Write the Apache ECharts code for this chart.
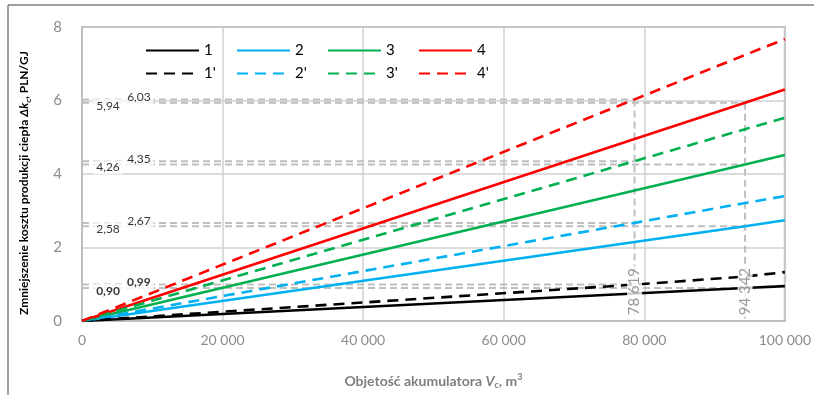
<!DOCTYPE html>
<html>
<head>
<meta charset="utf-8">
<script src="https://cdn.jsdelivr.net/npm/echarts@6/dist/echarts.min.js"></script>
<style>
html, body { margin: 0; padding: 0; background: #fff; }
#chart { width: 814px; height: 395px; }
</style>
</head>
<body>
<div id="chart"></div>
<script>
// Accumulator volume (m3) at which each curve is sampled
const volumes = [0, 78619, 94342, 100000];

// Heat production cost reduction (PLN/GJ), variants 1-4 and 1'-4'
const cost1  = [0, 0.75, 0.90, 0.95];
const cost2  = [0, 2.15, 2.58, 2.74];
const cost3  = [0, 3.55, 4.26, 4.52];
const cost4  = [0, 4.95, 5.94, 6.30];
const cost1p = [0, 0.99, 1.21, 1.33];
const cost2p = [0, 2.67, 3.21, 3.40];
const cost3p = [0, 4.35, 5.22, 5.53];
const cost4p = [0, 6.03, 7.24, 7.67];

const volumeA = 78619;
const volumeB = 94342;
const readAtA = [0.99, 2.67, 4.35, 6.03];
const readAtB = [0.90, 2.58, 4.26, 5.94];

const xTicks = [0, 20000, 40000, 60000, 80000, 100000];
const yTicks = [0, 2, 4, 6, 8];

const names = ['1', '2', '3', '4', "1'", "2'", "3'", "4'"];
const values = [cost1, cost2, cost3, cost4, cost1p, cost2p, cost3p, cost4p];
const colors = ['#000000', '#00b0f0', '#00b050', '#ff0000'];

const FONT = 'Lato, "Open Sans", sans-serif';
const GUIDE = '#bfbfbf';

function spaced(v) {
  return String(Math.round(v)).replace(/\B(?=(\d{3})+(?!\d))/g, ' ');
}
function comma(v) {
  return v.toFixed(2).replace('.', ',');
}

const series = [];

// Guide lines: horizontal read-offs and vertical markers
function guide(points) {
  series.push({
    type: 'line', data: points, symbol: 'none', silent: true, z: 1,
    lineStyle: { color: GUIDE, width: 2, type: [7, 4] },
    legendHoverLink: false, tooltip: { show: false }
  });
}
readAtA.forEach(v => guide([[0, v], [volumeA, v]]));
readAtB.forEach(v => guide([[0, v], [volumeB, v]]));
guide([[volumeA, Math.max(...readAtA)], [volumeA, 0]]);
guide([[volumeB, Math.max(...readAtB)], [volumeB, 0]]);

// Main curves
names.forEach((n, i) => {
  const dashed = i >= 4;
  series.push({
    name: n, type: 'line', symbol: 'none', showSymbol: false, z: 3,
    data: volumes.map((x, k) => [x, values[i][k]]),
    lineStyle: { color: colors[i % 4], width: 2.6, type: dashed ? [11, 7] : 'solid' },
    itemStyle: { color: colors[i % 4] }
  });
});

// Value labels next to the y axis (the lowest pair in bold)
function valueLabels(list, xPos, dy) {
  series.push({
    type: 'scatter', symbolSize: 0, z: 5, silent: true,
    data: list.map(v => [xPos, v]),
    label: {
      show: true, position: 'inside', offset: [0, dy],
      formatter: p => p.value[1] < 1 ? '{b|' + comma(p.value[1]) + '}' : '{n|' + comma(p.value[1]) + '}',
      rich: {
        n: { fontFamily: FONT, fontSize: 12, color: '#000' },
        b: { fontFamily: FONT, fontSize: 12, color: '#000', fontWeight: 'bold' }
      },
      backgroundColor: '#fff', padding: [1, 3, 1, 3]
    }
  });
}
valueLabels(readAtB, 3700, 3);
valueLabels(readAtA, 8100, -2);

// Rotated volume markers
series.push({
  type: 'scatter', symbolSize: 0, z: 6, silent: true,
  data: [[volumeA, 0.8], [volumeB, 0.8]],
  label: {
    show: true, position: 'inside', rotate: 90, align: 'center', verticalAlign: 'middle',
    formatter: p => spaced(p.value[0]),
    fontFamily: FONT, fontSize: 15, color: '#7f7f7f',
    backgroundColor: '#fff', padding: [0, 2, 0, 2]
  }
});

const legendCols = [0, 1, 2, 3].map(c => ({
  orient: 'vertical', left: 140 + c * 91, top: 38,
  itemWidth: 53, itemHeight: 14, itemGap: 8,
  data: [names[c], names[c + 4]],
  itemStyle: { opacity: 0 },
  textStyle: { fontFamily: FONT, fontSize: 15, color: '#000' },
  selectedMode: false
}));

const option = {
  animation: false,
  backgroundColor: '#fff',
  textStyle: { fontFamily: FONT },
  grid: {
    left: 82, right: 25, top: 27, bottom: 71,
    show: true, borderColor: '#a6a6a6', borderWidth: 2
  },
  legend: legendCols,
  xAxis: {
    type: 'value', min: xTicks[0], max: xTicks[xTicks.length - 1], interval: 20000,
    name: '{b|Objetość akumulatora }{i|V}{s|c}{b|, m}{p|3}',
    nameLocation: 'middle', nameGap: 52,
    nameTextStyle: {
      rich: {
        b: { fontFamily: FONT, fontSize: 14, fontWeight: 'bold', color: '#7f7f7f' },
        i: { fontFamily: FONT, fontSize: 14, fontWeight: 'bold', fontStyle: 'italic', color: '#7f7f7f' },
        s: { fontFamily: FONT, fontSize: 9, fontWeight: 'bold', color: '#7f7f7f', padding: [8, 0, 0, 0] },
        p: { fontFamily: FONT, fontSize: 9, fontWeight: 'bold', color: '#7f7f7f', padding: [0, 0, 8, 0] }
      }
    },
    axisLine: { show: true, lineStyle: { color: '#bfbfbf', width: 2 } },
    axisTick: { show: false },
    splitLine: { show: true, lineStyle: { color: '#d0d0d0', width: 1.5 } },
    axisLabel: {
      fontFamily: FONT, fontSize: 14, color: '#8c8c8c', margin: 12,
      formatter: v => spaced(v)
    }
  },
  yAxis: {
    type: 'value', min: yTicks[0], max: yTicks[yTicks.length - 1], interval: 2,
    name: '{b|Zmniejszenie kosztu produkcji ciepła }{i|Δk}{s|c}{b|, PLN/GJ}',
    nameLocation: 'middle', nameGap: 50, nameRotate: 90,
    nameTextStyle: {
      padding: [0, 18, 0, 0],
      rich: {
        b: { fontFamily: FONT, fontSize: 12, fontWeight: 'bold', color: '#000' },
        i: { fontFamily: FONT, fontSize: 12, fontWeight: 'bold', fontStyle: 'italic', color: '#000' },
        s: { fontFamily: FONT, fontSize: 8, fontWeight: 'bold', color: '#000', padding: [7, 0, 0, 0] }
      }
    },
    axisLine: { show: true, lineStyle: { color: '#bfbfbf', width: 2 } },
    axisTick: { show: false },
    splitLine: { show: true, lineStyle: { color: '#d0d0d0', width: 1.5 } },
    axisLabel: { fontFamily: FONT, fontSize: 15, color: '#8c8c8c', margin: 20 }
  },
  graphic: [
    { type: 'line', shape: { x1: 8, y1: 5, x2: 814, y2: 5 }, style: { stroke: '#7f7f7f', lineWidth: 1.5 }, silent: true },
    { type: 'line', shape: { x1: 8, y1: 5, x2: 8, y2: 395 }, style: { stroke: '#7f7f7f', lineWidth: 1.5 }, silent: true }
  ],
  series: series
};

const chart = echarts.init(document.getElementById('chart'), null, { renderer: 'canvas' });
chart.setOption(option);
</script>
</body>
</html>
